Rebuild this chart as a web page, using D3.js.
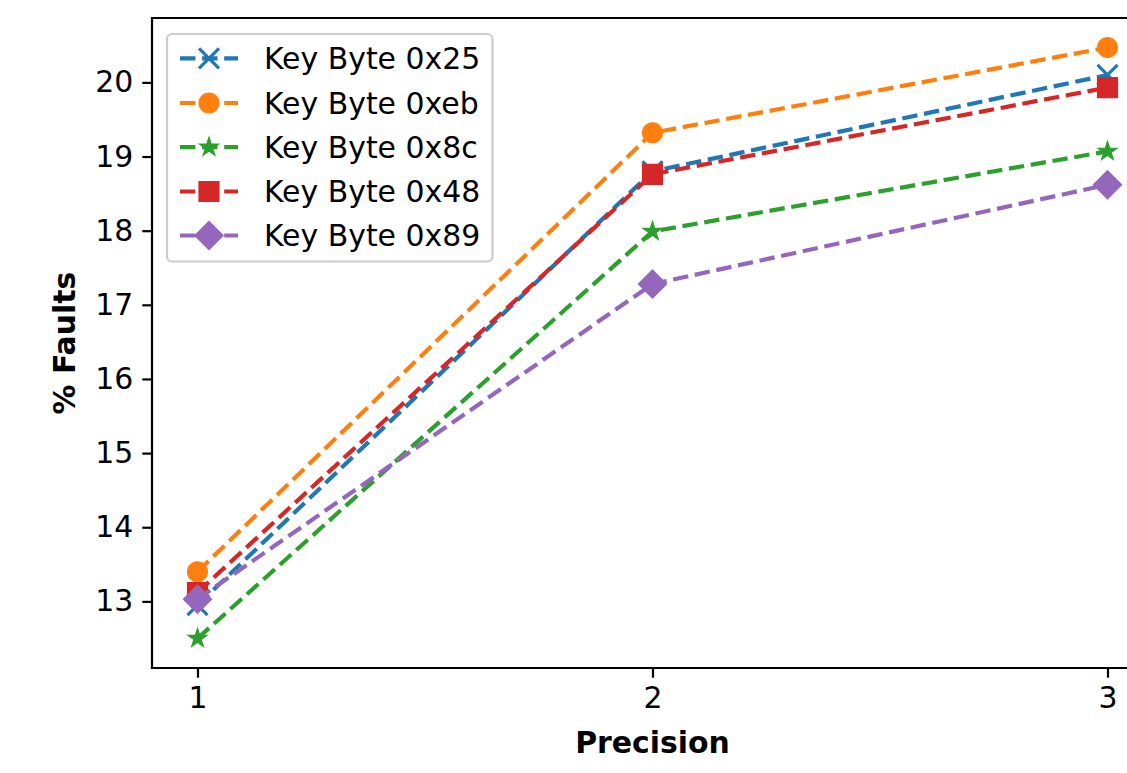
<!DOCTYPE html>
<html>
<head>
<meta charset="utf-8">
<script src="https://cdn.jsdelivr.net/npm/d3@7"></script>
<style>
  html, body { margin: 0; padding: 0; background: #fff; }
  svg { display: block; font-family: "DejaVu Sans", sans-serif; }
</style>
</head>
<body>
<svg id="chart" width="1127" height="773"></svg>
<script>
// Fault percentages per precision level for each key byte
const precision = [1, 2, 3];
const seriesNames = ["Key Byte 0x25", "Key Byte 0xeb", "Key Byte 0x8c", "Key Byte 0x48", "Key Byte 0x89"];
const faults0x25 = [12.95, 18.80, 20.10];
const faults0xeb = [13.40, 19.32, 20.47];
const faults0x8c = [12.50, 17.99, 19.07];
const faults0x48 = [13.12, 18.76, 19.93];
const faults0x89 = [13.03, 17.28, 18.62];
const yTicks = [13, 14, 15, 16, 17, 18, 19, 20];
const xTicks = [1, 2, 3];

const colors = ["#1f77b4", "#ff7f0e", "#2ca02c", "#d62728", "#9467bd"];
const markers = ["x", "o", "star", "s", "D"];
const values = [faults0x25, faults0xeb, faults0x8c, faults0x48, faults0x89];

const plotLeft = 152, plotTop = 18, plotBottom = 668, plotRight = 1153;
const FONT = 29.9;

const svg = d3.select("#chart");

// x domain padded by 5% on each side
const x = d3.scaleLinear().domain([0.9, 3.1]).range([plotLeft, plotRight]);
const allVals = values.flat();
const yMin = d3.min(allVals), yMax = d3.max(allVals);
const pad = (yMax - yMin) * 0.05;
const y = d3.scaleLinear().domain([yMin - pad, yMax + pad]).range([plotBottom, plotTop]);

svg.append("defs").append("clipPath").attr("id", "plotclip")
  .append("rect").attr("x", plotLeft).attr("y", plotTop)
  .attr("width", plotRight - plotLeft).attr("height", plotBottom - plotTop);

const MS = 20; // marker size in px

function markerPath(kind) {
  const r = MS / 2;
  if (kind === "o") return `M${r},0A${r},${r},0,1,1,${-r},0A${r},${r},0,1,1,${r},0Z`;
  if (kind === "s") return `M${-r},${-r}H${r}V${r}H${-r}Z`;
  if (kind === "D") { const d = r * Math.SQRT2; return `M0,${-d}L${d},0L0,${d}L${-d},0Z`; }
  if (kind === "x") return `M${-r},${-r}L${r},${r}M${-r},${r}L${r},${-r}`;
  // five-pointed star
  const inner = r * 0.381966;
  let s = "";
  for (let i = 0; i < 10; i++) {
    const rad = i % 2 === 0 ? r : inner;
    const a = -Math.PI / 2 + i * Math.PI / 5;
    s += (i === 0 ? "M" : "L") + (rad * Math.cos(a)).toFixed(2) + "," + (rad * Math.sin(a)).toFixed(2);
  }
  return s + "Z";
}

function drawMarker(g, kind, color, cx, cy) {
  const p = g.append("path").attr("d", markerPath(kind)).attr("transform", `translate(${cx},${cy})`);
  if (kind === "x") {
    p.attr("fill", "none").attr("stroke", color).attr("stroke-width", 3.2);
  } else {
    p.attr("fill", color).attr("stroke", color).attr("stroke-width", 1.2);
  }
}

const plot = svg.append("g").attr("clip-path", "url(#plotclip)");
const line = d3.line().x((d, i) => x(precision[i])).y(d => y(d));

values.forEach((vals, k) => {
  const g = plot.append("g");
  g.append("path").datum(vals).attr("d", line)
    .attr("fill", "none").attr("stroke", colors[k]).attr("stroke-width", 4.2)
    .attr("stroke-dasharray", "15.4,6.7");
  vals.forEach((v, i) => drawMarker(g, markers[k], colors[k], x(precision[i]), y(v)));
});

// spines (right spine falls outside the canvas)
const spine = svg.append("g").attr("stroke", "#000").attr("stroke-width", 2.2).attr("fill", "none");
spine.append("line").attr("x1", plotLeft).attr("x2", plotLeft).attr("y1", plotTop - 1.1).attr("y2", plotBottom + 1.1);
spine.append("line").attr("x1", plotLeft - 1.1).attr("x2", plotRight).attr("y1", plotBottom).attr("y2", plotBottom);
spine.append("line").attr("x1", plotLeft - 1.1).attr("x2", plotRight).attr("y1", plotTop).attr("y2", plotTop);

// axes
const xAxis = d3.axisBottom(x).tickValues(xTicks).tickFormat(d3.format("d")).tickSize(9.7).tickPadding(9);
const yAxis = d3.axisLeft(y).tickValues(yTicks).tickFormat(d3.format("d")).tickSize(9.7).tickPadding(9);

const gx = svg.append("g").attr("transform", `translate(0,${plotBottom})`).call(xAxis);
const gy = svg.append("g").attr("transform", `translate(${plotLeft},0)`).call(yAxis);
[gx, gy].forEach(g => {
  g.select(".domain").remove();
  g.selectAll(".tick line").attr("stroke", "#000").attr("stroke-width", 2.2);
  g.selectAll(".tick text").attr("fill", "#000").attr("font-size", FONT)
    .attr("font-family", "DejaVu Sans, sans-serif");
});
gx.selectAll(".tick text").attr("dy", "0.71em");

// axis titles
svg.append("text").attr("x", (plotLeft + plotRight) / 2).attr("y", 753)
  .attr("text-anchor", "middle").attr("font-size", FONT).attr("font-weight", "bold").text("Precision");
svg.append("text").attr("transform", `translate(75,${(plotTop + plotBottom) / 2}) rotate(-90)`)
  .attr("text-anchor", "middle").attr("font-size", FONT).attr("font-weight", "bold").text("% Faults");

// legend
const legend = svg.append("g");
legend.append("rect").attr("x", 167).attr("y", 34).attr("width", 325.5).attr("height", 227.5)
  .attr("rx", 5).attr("fill", "#fff").attr("fill-opacity", 0.8).attr("stroke", "#cccccc").attr("stroke-width", 2.2);
const rowY = [58.3, 103.0, 147.2, 191.5, 235.5];
seriesNames.forEach((name, k) => {
  const g = legend.append("g");
  g.append("line").attr("x1", 180).attr("x2", 238).attr("y1", rowY[k]).attr("y2", rowY[k])
    .attr("stroke", colors[k]).attr("stroke-width", 4.2).attr("stroke-dasharray", "15.4,6.7");
  drawMarker(g, markers[k], colors[k], 209, rowY[k]);
  g.append("text").attr("x", 264).attr("y", rowY[k]).attr("dy", "0.36em")
    .attr("font-size", FONT).attr("fill", "#000").text(name);
});
</script>
</body>
</html>
